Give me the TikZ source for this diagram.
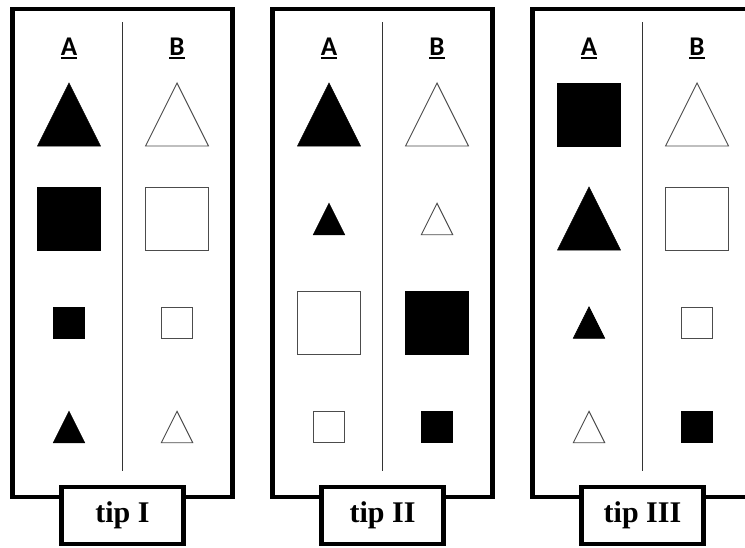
\documentclass[tikz,border=0pt]{standalone}
\usepackage{fontspec}
\setmainfont{Liberation Serif}
\newfontfamily\headfont{Carlito}
\usetikzlibrary{positioning}

\newcommand{\trishape}[4]{\path[#1,shift={(#2,#3)}] (-#4,#4) -- (0,-#4) -- (#4,#4) -- cycle;}
\newcommand{\sqshape}[4]{\path[#1,shift={(#2,#3)}] (-#4,-#4) rectangle (#4,#4);}
\newcommand{\ulhead}[1]{\setbox0\hbox{#1}\rlap{\rule[-3.5pt]{\wd0}{2pt}}\box0}

\begin{document}
\begin{tikzpicture}[x=1pt, y=-1pt, line join=miter,
	panel/.style={draw, line width=4.2pt, minimum width=220pt, minimum height=488pt, inner sep=0pt, outer sep=0pt},
	tipbox/.style={draw, fill=white, line width=4.2pt, minimum width=122pt, minimum height=57pt, inner sep=0pt, outer sep=0pt, font=\bfseries\fontsize{30}{30}\selectfont},
	colhead/.style={font=\headfont\bfseries\fontsize{27}{27}\selectfont, inner sep=0pt, anchor=base},
	divider/.style={draw=black!80, line width=1.3pt},
	full/.style={fill=black, draw=black, line width=.6pt},
	hollow/.style={fill=white, draw=black!70, line width=.9pt}]
	\useasboundingbox (0,0) rectangle (745,547);
	\foreach \i/\px/\tip in {1/12.5/I, 2/272.5/II, 3/532.5/III}{
		\node[panel] (p\i) at (\px+110,253) {};
		\draw[divider] ([yshift=-13pt]p\i.north) -- ([yshift=26pt]p\i.south);
		\node[colhead] (a\i) at (\px+56.5,55) {\ulhead{A}};
		\node[colhead] (b\i) at (\px+164.5,55) {\ulhead{B}};
		\node[tipbox, below=-10pt of p\i.south] (t\i) {tip \tip};
	}
	% tip I
	\trishape{full}{69}{114.5}{31.5}
	\sqshape{full}{69}{218.5}{31.5}
	\sqshape{full}{69}{322.5}{15.5}
	\trishape{full}{69}{427}{15.75}
	\trishape{hollow}{177}{114.5}{31.5}
	\sqshape{hollow}{177}{218.5}{31.5}
	\sqshape{hollow}{177}{322.5}{15.5}
	\trishape{hollow}{177}{427}{15.75}
	% tip II
	\trishape{full}{329}{114.5}{31.5}
	\trishape{full}{329}{219}{15.75}
	\sqshape{hollow}{329}{322.5}{31.5}
	\sqshape{hollow}{329}{427}{15.5}
	\trishape{hollow}{437}{114.5}{31.5}
	\trishape{hollow}{437}{219}{15.75}
	\sqshape{full}{437}{322.5}{31.5}
	\sqshape{full}{437}{427}{15.5}
	% tip III
	\sqshape{full}{589}{114.5}{31.5}
	\trishape{full}{589}{218.5}{31.5}
	\trishape{full}{589}{322.5}{15.75}
	\trishape{hollow}{589}{427}{15.75}
	\trishape{hollow}{697}{114.5}{31.5}
	\sqshape{hollow}{697}{218.5}{31.5}
	\sqshape{hollow}{697}{322.5}{15.5}
	\sqshape{full}{697}{427}{15.5}
\end{tikzpicture}
\end{document}
